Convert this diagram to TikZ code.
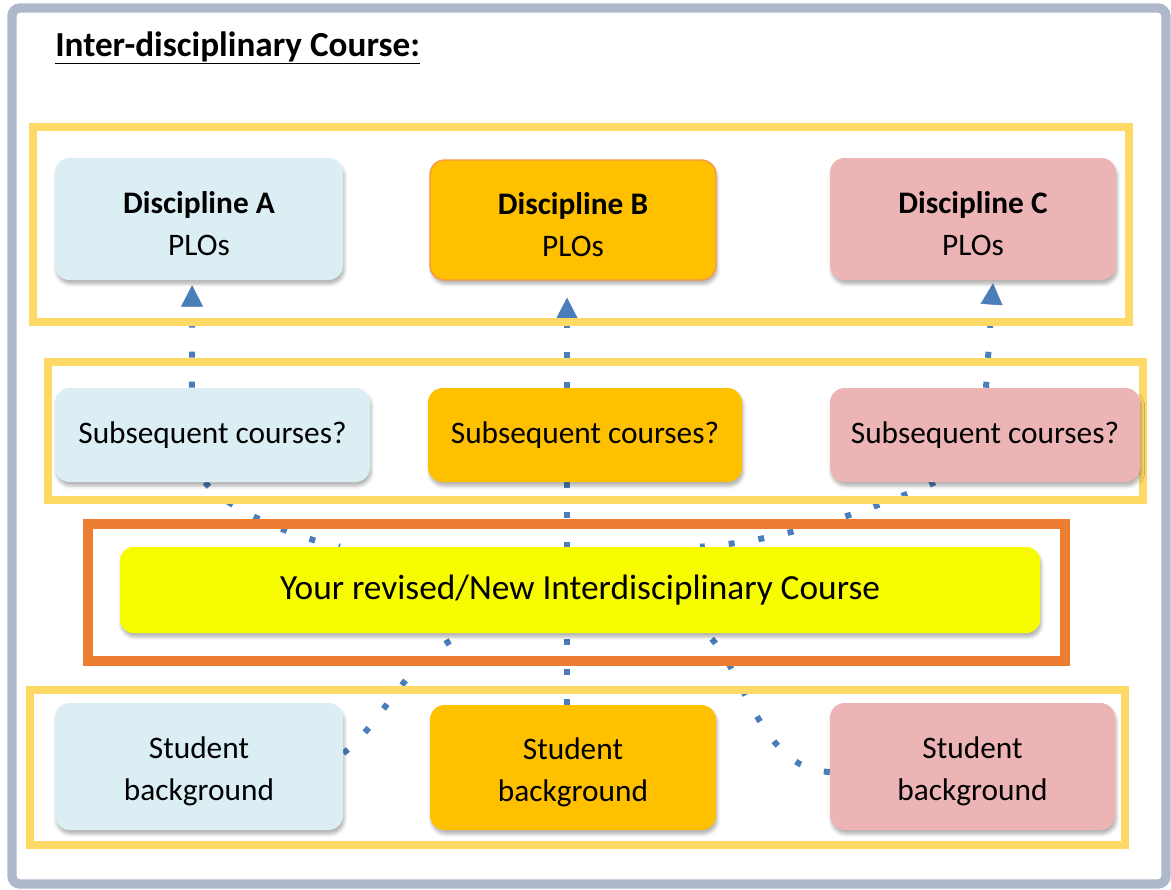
\documentclass[tikz,border=0pt]{standalone}
\usepackage{fontspec}
\setmainfont{Carlito}
\usetikzlibrary{arrows.meta,shadows.blur,calc}
\definecolor{frameblue}{HTML}{ADB9CA}
\definecolor{fyellow}{HTML}{FFD966}
\definecolor{forange}{HTML}{ED7D31}
\definecolor{lblue}{HTML}{DAEEF3}
\definecolor{gold}{HTML}{FFC000}
\definecolor{pinkc}{HTML}{ECB4B4}
\definecolor{cyellow}{HTML}{F8FC00}
\definecolor{dotblue}{HTML}{4A7EBB}
\definecolor{borange}{HTML}{F79646}
\newcommand{\mytopstrut}{\rule{0pt}{24pt}}
\pgfdeclarelayer{conns}
\pgfdeclarelayer{frames}
\pgfsetlayers{conns,frames,main}
\begin{document}
\begin{tikzpicture}[x=0.75pt,y=-0.75pt,
  box/.style={rounded corners=11pt, inner sep=0pt, align=center, text=black,
    font=\fontsize{23.5}{31.5}\selectfont,
    blur shadow={shadow xshift=1pt, shadow yshift=-3pt, shadow blur radius=2.5pt, shadow opacity=30}},
  wh/.style 2 args={minimum width=#1*0.75pt, minimum height=#2*0.75pt},
  rowframe/.style={draw=fyellow, line width=6pt},
  conn/.style={draw=dotblue, line width=4.5pt, dash pattern=on 4.5pt off 18pt, line cap=butt},
  arr/.style={conn, -{Triangle[width=16.5pt,length=16pt,line width=0.4pt]}}
]
\useasboundingbox (0,0) rectangle (1171,889);

% nodes
\node[box, wh={288}{122}, fill=lblue] (discA) at (199,219) {\mytopstrut\textbf{Discipline A}\\PLOs};
\node[box, wh={286}{120}, fill=gold, draw=borange, line width=1pt] (discB) at (573,220) {\mytopstrut\textbf{Discipline B}\\PLOs};
\node[box, wh={286}{122}, fill=pinkc] (discC) at (973,219) {\mytopstrut\textbf{Discipline C}\\PLOs};

\node[box, wh={315}{94}, fill=lblue] (subA) at (212.5,435) {Subsequent courses?};
\node[box, wh={314}{94}, fill=gold] (subB) at (585,435) {Subsequent courses?};
\node[box, wh={310}{94}, fill=pinkc] (subC) at (985,435) {Subsequent courses?};

\node[box, wh={920}{86}, fill=cyellow, rounded corners=10pt, font=\fontsize{26.5}{30}\selectfont] (course) at (580,590) {Your revised/New Interdisciplinary Course};

\node[box, wh={288}{127}, fill=lblue] (sA) at (199,766.5) {\mytopstrut Student\\background};
\node[box, wh={286}{125}, fill=gold] (sB) at (573,767.5) {\mytopstrut Student\\background};
\node[box, wh={285}{127}, fill=pinkc] (sC) at (972.5,766.5) {\mytopstrut Student\\background};

\draw[frameblue, line width=7pt, rounded corners=6pt] (12,8) rectangle (1166,884);
\node[anchor=base west, inner sep=0pt, font=\fontsize{26.4}{30}\selectfont\bfseries] (title) at (55,56) {\underline{Inter-disciplinary Course:}};

% frames
\begin{pgfonlayer}{frames}
\draw[rowframe] (33,127) rectangle (1129,322);
\draw[rowframe] (48,362) rectangle (1143,500);
\draw[draw=forange, line width=7.5pt] (88,524) rectangle (1065,661);
\draw[rowframe] (30,690) rectangle (1125,845);
\end{pgfonlayer}

% connectors
\begin{pgfonlayer}{conns}
\draw[arr] ([xshift=-15.4pt]subA.north) -- ([xshift=-5.2pt,yshift=-3.75pt]discA.south);
\draw[arr] ([xshift=-13.5pt]subB.north) -- ([xshift=-4.5pt,yshift=-12.75pt]discB.south);
\draw[arr] ([xshift=0.75pt]subC.north) -- ([xshift=15pt,yshift=-2.25pt]discC.south);
\draw[conn] ([xshift=-5.6pt]subA.south) .. controls +(20,25) and +(-50,-10) .. ([xshift=-180pt]course.north);
\draw[conn] ([xshift=-13.5pt]subB.south) -- ([xshift=-9.75pt]course.north);
\draw[conn] ([xshift=-37.5pt]subC.south) .. controls +(-70,30) and +(80,-5) .. ([xshift=90pt]course.north);
\draw[conn] ([yshift=10pt]sA.east) .. controls +(40,-30) and +(-60,25) .. ([xshift=-86pt]course.south);
\draw[conn] ([xshift=-4.5pt]sB.north) -- ([xshift=-9.75pt]course.south);
\draw[conn] ([yshift=-4pt]sC.west) .. controls +(-70,0) and +(35,25) .. ([xshift=94pt]course.south);
\end{pgfonlayer}
\end{tikzpicture}
\end{document}
